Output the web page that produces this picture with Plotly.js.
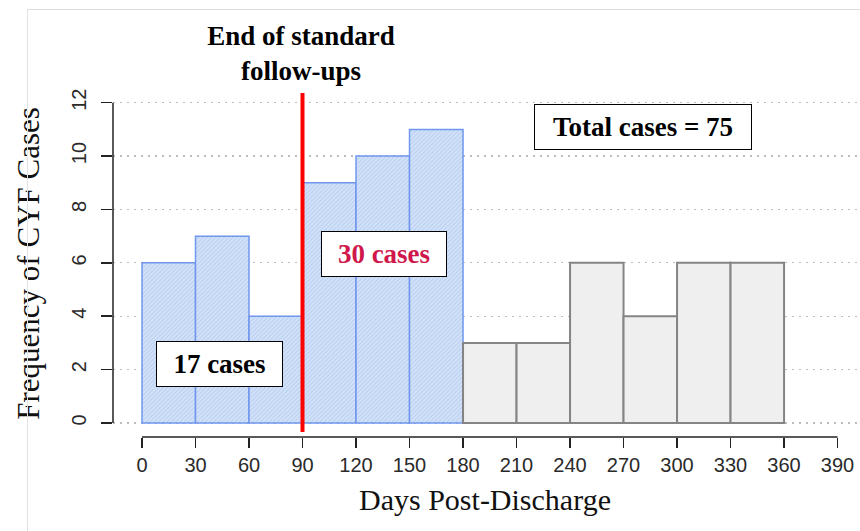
<!DOCTYPE html>
<html>
<head>
<meta charset="utf-8">
<script src="https://cdn.plot.ly/plotly-3.0.1.min.js"></script>
<style>
  html, body { margin: 0; padding: 0; background: #ffffff; }
  #wrap { position: relative; width: 860px; height: 531px; }
  #chart { position: absolute; left: 0; top: 0; width: 860px; height: 531px; }
  #frame { position: absolute; left: 27px; top: 9px; right: 0; bottom: 0;
           border-top: 1px solid #dcdcdc; border-left: 1px solid #e2e2e2; pointer-events: none; }
</style>
</head>
<body>
<div id="wrap">
  <div id="chart"></div>
  <div id="frame"></div>
</div>
<script>
// ---- data ----
const binStartsStandard = [0, 30, 60, 90, 120, 150];
const countsStandard    = [6, 7, 4, 9, 10, 11];
const binStartsLater    = [180, 210, 240, 270, 300, 330];
const countsLater       = [3, 3, 6, 4, 6, 6];
const binWidth = 30;
const xTickVals = [0, 30, 60, 90, 120, 150, 180, 210, 240, 270, 300, 330, 360, 390];
const yTickVals = [0, 2, 4, 6, 8, 10, 12];
const cutoffDay = 90;
const titleText = "End of standard<br>follow-ups";
const xTitle = "Days Post-Discharge";
const yTitle = "Frequency of CYF Cases";
const labelEarly = "17 cases";
const labelMid = "30 cases";
const labelTotal = "Total cases = 75";

const serif = "Liberation Serif, Times New Roman, serif";
const sans = "Liberation Sans, Arial, sans-serif";

const traces = [
  {
    type: "bar",
    x: binStartsStandard,
    y: countsStandard,
    width: binWidth,
    offset: 0,
    marker: {
      color: "#d2e1f7",
      line: { color: "#7096ee", width: 1.5 },
      pattern: { shape: "/", fillmode: "replace", bgcolor: "#d3e2f8", fgcolor: "#b4ccf1", size: 3, solidity: 0.3 }
    },
    hoverinfo: "skip",
    showlegend: false
  },
  {
    type: "bar",
    x: binStartsLater,
    y: countsLater,
    width: binWidth,
    offset: 0,
    marker: { color: "#efefef", line: { color: "#858585", width: 2 } },
    hoverinfo: "skip",
    showlegend: false
  }
];

const layout = {
  width: 860,
  height: 531,
  margin: { l: 113, r: 3, t: 90, b: 94 },
  paper_bgcolor: "rgba(0,0,0,0)",
  plot_bgcolor: "rgba(0,0,0,0)",
  bargap: 0,
  barmode: "overlay",
  title: {
    text: titleText,
    font: { family: serif, size: 27, color: "#000", weight: "bold" },
    x: 301 / 860, xref: "container", xanchor: "center",
    y: 1 - 45 / 531, yref: "container", yanchor: "middle"
  },
  xaxis: {
    range: [-16.26, 400.9],
    tickvals: xTickVals,
    ticks: "outside", ticklen: 10, tickwidth: 1.5, tickcolor: "#222",
    tickfont: { family: sans, size: 20, color: "#2a2a2a" },
    showgrid: false, zeroline: false, showline: false,
    title: { text: xTitle, font: { family: serif, size: 30, color: "#111" }, standoff: 13 },
    automargin: false
  },
  yaxis: {
    range: [-0.525, 12.476],
    tickvals: yTickVals,
    ticks: "outside", ticklen: 11, tickwidth: 1.5, tickcolor: "#222",
    tickangle: -90,
    ticklabelstandoff: 7,
    tickfont: { family: sans, size: 20, color: "#2a2a2a" },
    showgrid: true, gridcolor: "#bdbdbd", griddash: "2px,5px", gridwidth: 1.2,
    zeroline: false, showline: false,
    title: { text: yTitle, font: { family: serif, size: 31, color: "#111" }, standoff: 19 },
    automargin: false
  },
  shapes: [
    { type: "line", xref: "x", yref: "paper", x0: 0, x1: 390, y0: 0, y1: 0,
      line: { color: "#222", width: 1.5 } },
    { type: "line", xref: "paper", yref: "y", x0: 0, x1: 0, y0: 0, y1: 12,
      line: { color: "#222", width: 1.5 } },
    { type: "line", xref: "x", yref: "y", x0: cutoffDay, x1: cutoffDay, y0: -0.34, y1: 12.36,
      line: { color: "#ff0000", width: 4 }, layer: "above" }
  ],
  annotations: [
    { text: "<b>" + labelEarly + "</b>", xref: "x", yref: "y", x: 43.7, y: 2.21,
      showarrow: false, font: { family: serif, size: 27, color: "#000" },
      bgcolor: "#ffffff", bordercolor: "#000", borderwidth: 1, borderpad: 0,
      width: 125, height: 44 },
    { text: "<b>" + labelMid + "</b>", xref: "x", yref: "y", x: 135.7, y: 6.33,
      showarrow: false, font: { family: serif, size: 27, color: "#d0174b" },
      bgcolor: "#ffffff", bordercolor: "#000", borderwidth: 1, borderpad: 0,
      width: 124, height: 44 },
    { text: "<b>" + labelTotal + "</b>", xref: "x", yref: "y", x: 281, y: 11.09,
      showarrow: false, font: { family: serif, size: 27, color: "#000" },
      bgcolor: "#ffffff", bordercolor: "#000", borderwidth: 1, borderpad: 0,
      width: 216, height: 44 }
  ]
};

Plotly.newPlot("chart", traces, layout, { displayModeBar: false, staticPlot: true });
</script>
</body>
</html>
